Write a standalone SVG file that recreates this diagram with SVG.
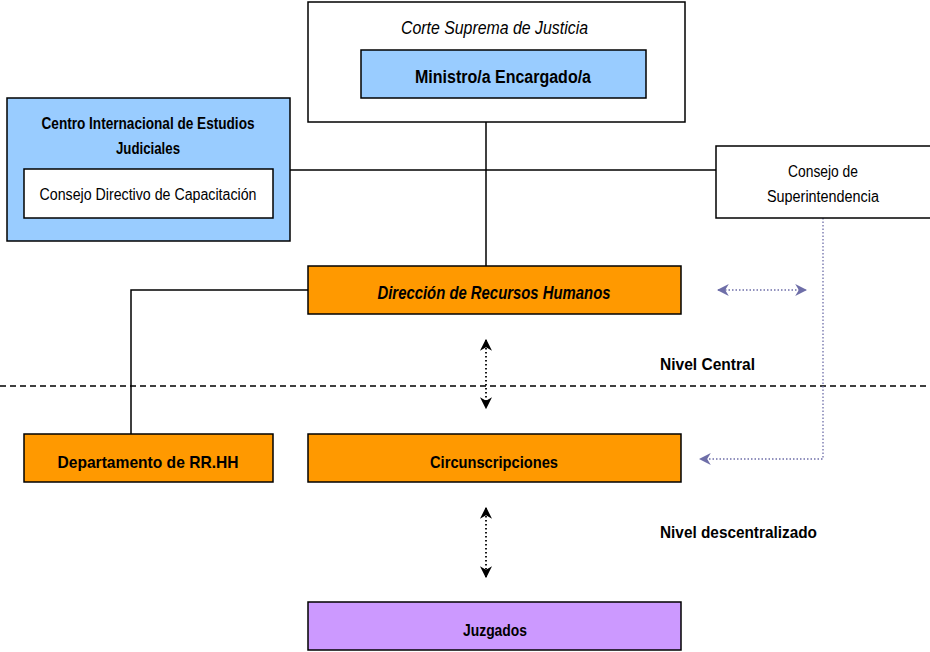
<svg xmlns="http://www.w3.org/2000/svg" width="930" height="652" viewBox="0 0 930 652">
<style>
text{font-family:"Liberation Sans",Arial,sans-serif;fill:#000;text-anchor:middle}
.b{font-weight:bold}
.i{font-style:italic}
.box{stroke:#000;stroke-width:1.5}
.blue{fill:#99CCFF}
.white{fill:#FFFFFF}
.orange{fill:#FF9900}
.violet{fill:#CC99FF}
.ln{stroke:#000;stroke-width:1.5;fill:none}
.dot{stroke:#000;stroke-width:1.8;stroke-dasharray:1.5 2.5;fill:none}
.pdot{stroke:#6E6EA8;stroke-width:1.3;stroke-dasharray:1.5 2;fill:none}
</style>
<defs>
<marker id="ah" viewBox="0 0 10 10" refX="9" refY="5" markerWidth="12" markerHeight="12" markerUnits="userSpaceOnUse" orient="auto-start-reverse">
<path d="M0,0 L10,5 L0,10 L3,5 z" fill="#000"/>
</marker>
<marker id="ap" viewBox="0 0 10 10" refX="9" refY="5" markerWidth="12" markerHeight="12" markerUnits="userSpaceOnUse" orient="auto-start-reverse">
<path d="M0,0 L10,5 L0,10 L3,5 z" fill="#6E6EA8"/>
</marker>
</defs>
<g id="connectors">
<line class="ln" x1="486" y1="122" x2="486" y2="266"/>
<line class="ln" x1="290" y1="170" x2="716" y2="170"/>
<polyline class="ln" points="308,290 131,290 131,434"/>
<line stroke="#000" stroke-width="1.5" stroke-dasharray="6 4" x1="0" y1="386" x2="930" y2="386"/>
<line class="dot" x1="486" y1="340" x2="486" y2="408" marker-start="url(#ah)" marker-end="url(#ah)"/>
<line class="dot" x1="486" y1="508" x2="486" y2="577" marker-start="url(#ah)" marker-end="url(#ah)"/>
<line class="pdot" x1="718" y1="290" x2="806" y2="290" marker-start="url(#ap)" marker-end="url(#ap)"/>
<polyline class="pdot" points="823,218 823,459 700,459" marker-end="url(#ap)"/>
</g>
<g id="corte">
<rect class="box white" x="308" y="2" width="377" height="120"/>
<text class="i" x="494.5" y="34" font-size="18" textLength="187" lengthAdjust="spacingAndGlyphs">Corte Suprema de Justicia</text>
</g>
<g id="ministro">
<rect class="box blue" x="361" y="50" width="285" height="48"/>
<text class="b" x="503" y="83" font-size="18" textLength="176" lengthAdjust="spacingAndGlyphs">Ministro/a Encargado/a</text>
</g>
<g id="centro">
<rect class="box blue" x="7" y="98" width="283" height="143"/>
<text class="b" x="148" y="129" font-size="16" textLength="213" lengthAdjust="spacingAndGlyphs">Centro Internacional de Estudios</text>
<text class="b" x="148" y="154" font-size="16" textLength="64" lengthAdjust="spacingAndGlyphs">Judiciales</text>
</g>
<g id="consejo-directivo">
<rect class="box white" x="24" y="169" width="249" height="49"/>
<text x="148" y="200" font-size="16" textLength="217" lengthAdjust="spacingAndGlyphs">Consejo Directivo de Capacitación</text>
</g>
<g id="consejo-superintendencia">
<rect class="box white" x="716" y="146" width="216" height="72"/>
<text x="823" y="177" font-size="16" textLength="70" lengthAdjust="spacingAndGlyphs">Consejo de</text>
<text x="823" y="202" font-size="16" textLength="112" lengthAdjust="spacingAndGlyphs">Superintendencia</text>
</g>
<g id="direccion">
<rect class="box orange" x="308" y="266" width="373" height="48"/>
<text class="b i" x="494" y="299" font-size="18" textLength="233" lengthAdjust="spacingAndGlyphs">Dirección de Recursos Humanos</text>
</g>
<g id="departamento">
<rect class="box orange" x="24" y="434" width="249" height="48"/>
<text class="b" x="148" y="468" font-size="17" textLength="181" lengthAdjust="spacingAndGlyphs">Departamento de RR.HH</text>
</g>
<g id="circunscripciones">
<rect class="box orange" x="308" y="434" width="373" height="48"/>
<text class="b" x="494" y="468" font-size="17" textLength="128" lengthAdjust="spacingAndGlyphs">Circunscripciones</text>
</g>
<g id="juzgados">
<rect class="box violet" x="308" y="602" width="373" height="48"/>
<text class="b" x="495" y="636" font-size="17" textLength="64" lengthAdjust="spacingAndGlyphs">Juzgados</text>
</g>
<g id="niveles">
<text class="b" x="660" y="370" font-size="17" style="text-anchor:start" textLength="95" lengthAdjust="spacingAndGlyphs">Nivel Central</text>
<text class="b" x="660" y="538" font-size="17" style="text-anchor:start" textLength="157" lengthAdjust="spacingAndGlyphs">Nivel descentralizado</text>
</g>
</svg>
